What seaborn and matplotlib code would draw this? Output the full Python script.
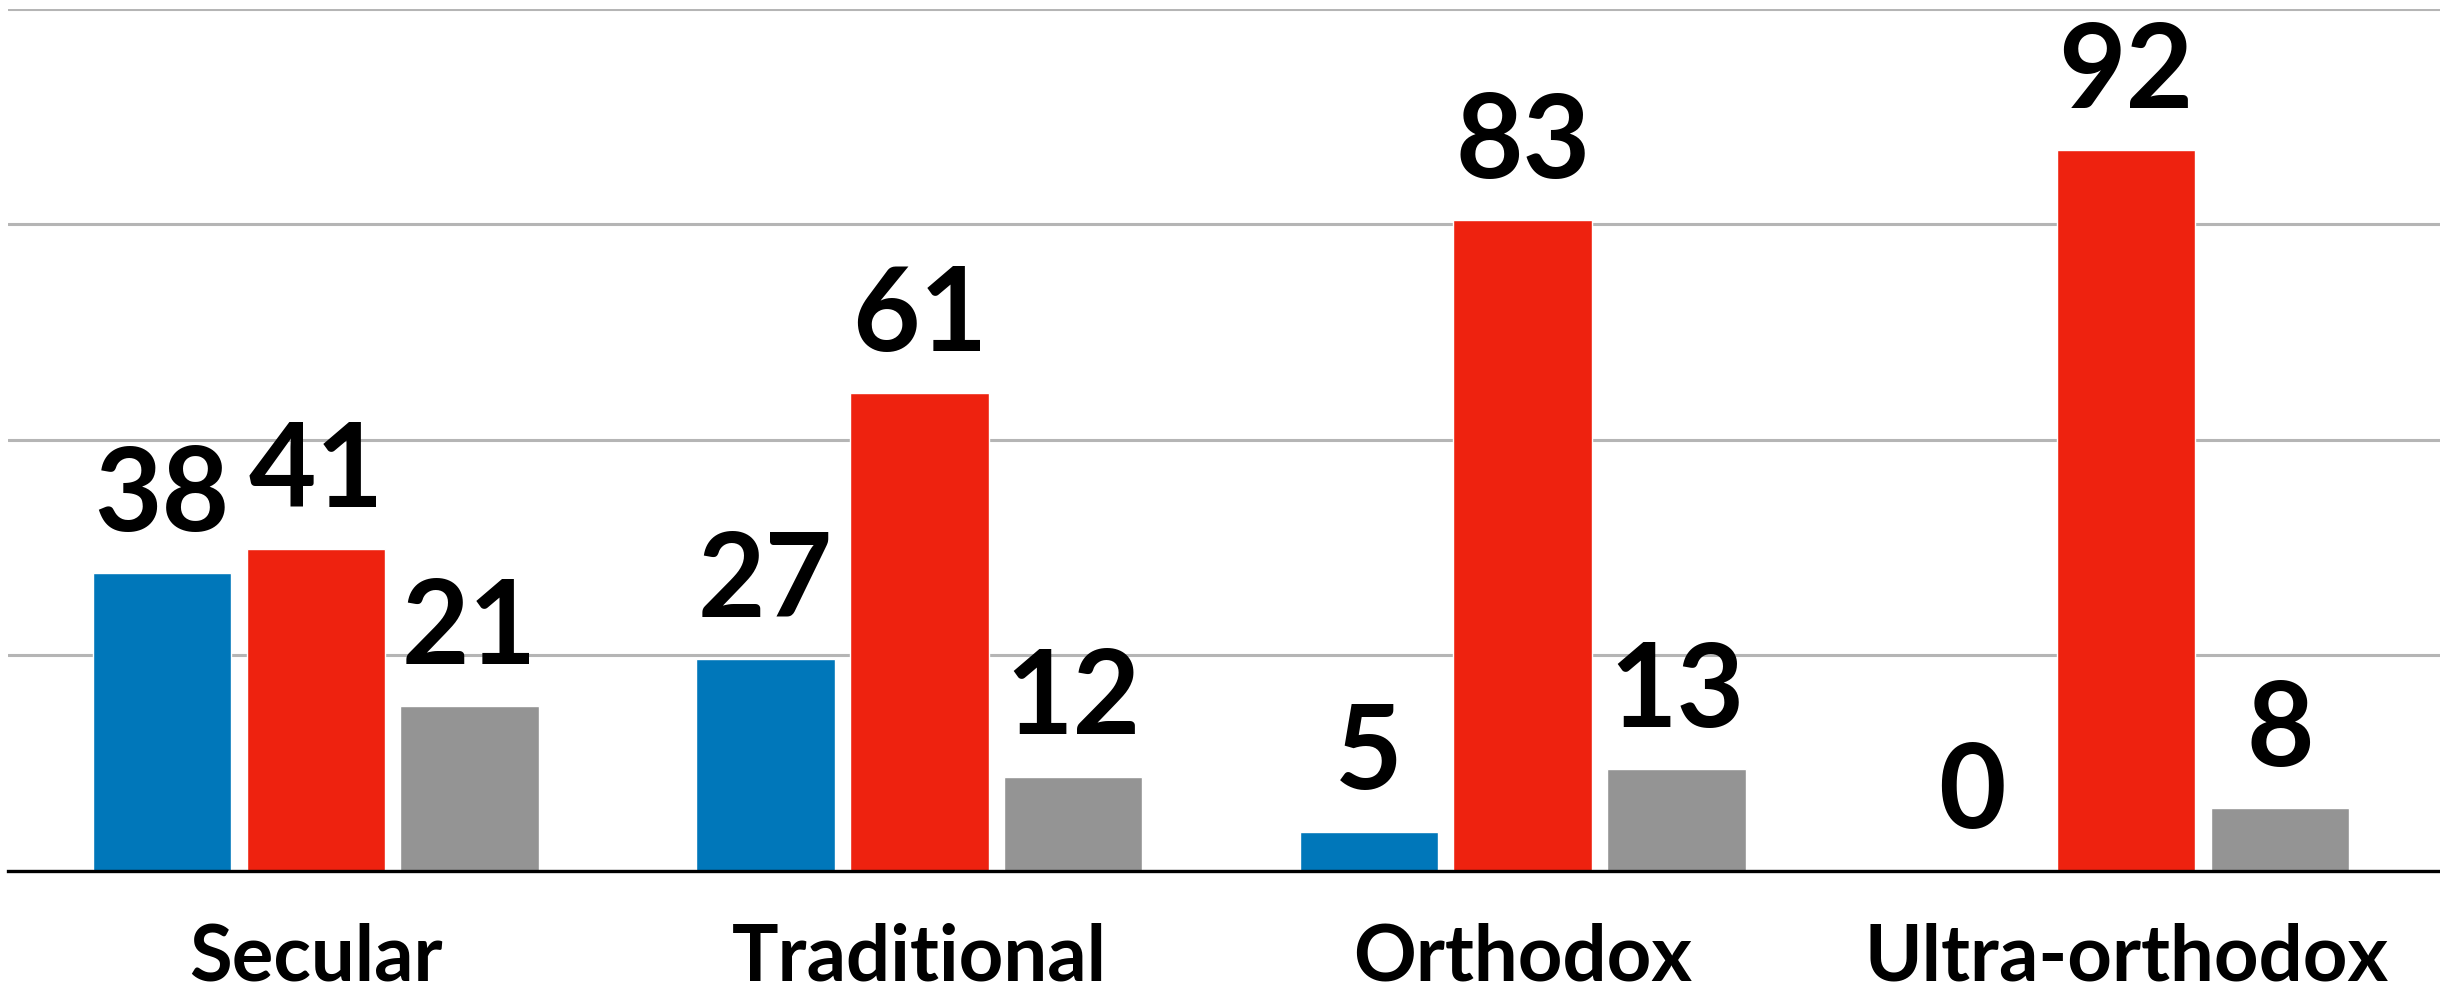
import pandas as pd
import matplotlib
matplotlib.use('Agg')
import matplotlib.pyplot as plt
import seaborn as sns

groups = ['Secular', 'Traditional', 'Orthodox', 'Ultra-orthodox']
series = ['A', 'B', 'C']
values_a = [38, 27, 5, 0]
values_b = [41, 61, 83, 92]
values_c = [21, 12, 13, 8]
colors = ['#0077ba', '#ee220f', '#949494']


def plot_data():
  rows = []
  for name, vals in zip(series, [values_a, values_b, values_c]):
    for g, v in zip(groups, vals):
      rows.append({'group': g, 'series': name, 'value': v})
  df = pd.DataFrame(rows)

  sns.set_style('white')
  plt.rcParams['font.family'] = ['Lato', 'DejaVu Sans']
  plt.rcParams['text.color'] = 'black'
  plt.rcParams['xtick.color'] = 'black'

  fig = plt.figure(figsize=(24.4, 9.97), dpi=100)
  ax = fig.add_axes([0.0033, 0.1267, 0.9967, 0.8643])

  sns.barplot(data=df, x='group', y='value', hue='series', order=groups,
              hue_order=series, palette=colors, width=0.765, gap=0.1,
              errorbar=None, legend=False, saturation=1, ax=ax)

  for cont in ax.containers:
    ax.bar_label(cont, fmt='%d', padding=16, fontsize=84, fontweight='bold',
                 color='black')

  ax.set_xlim(-0.51, 3.52)
  ax.set_ylim(0, 110)
  ax.set_yticks([0, 27.5, 55, 82.5, 110])
  ax.set_yticklabels([])
  ax.yaxis.grid(True, color='#b5b5b5', linewidth=2.2)
  ax.set_axisbelow(True)
  for s in ['top', 'left', 'right']:
    ax.spines[s].set_visible(False)
  ax.spines['bottom'].set_color('black')
  ax.spines['bottom'].set_linewidth(2.4)
  ax.tick_params(axis='both', length=0)
  ax.tick_params(axis='x', pad=37, labelsize=56, labelcolor='black')
  for t in ax.get_xticklabels():
    t.set_fontweight('bold')
  ax.set_xlabel('')
  ax.set_ylabel('')

  fig.savefig('out.png', dpi=100)


def main():
  plot_data()


if __name__ == '__main__':
  main()
